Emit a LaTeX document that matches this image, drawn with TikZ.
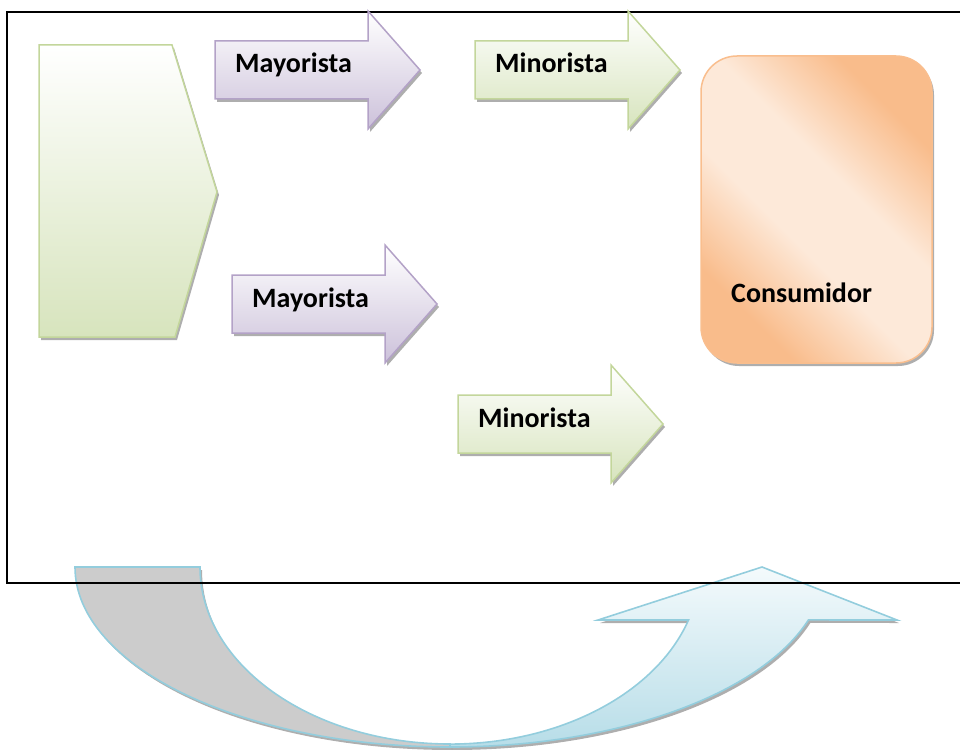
\documentclass[tikz,border=0pt]{standalone}
\usepackage{fontspec}
\setmainfont{Carlito}
\usetikzlibrary{shadows}
\definecolor{greenline}{HTML}{C3D69B}
\definecolor{greenfill}{HTML}{D7E4BD}
\definecolor{purpleline}{HTML}{B3A2C7}
\definecolor{purplefill}{HTML}{CCC1DA}
\definecolor{orangeline}{HTML}{F9BE8E}
\definecolor{orangefill}{HTML}{F9BC8B}
\definecolor{orangelight}{HTML}{FDE9D9}
\definecolor{aqualine}{HTML}{93CDDD}
\definecolor{aquatop}{HTML}{F4FAFC}
\definecolor{aquafill}{HTML}{B7DDE8}
\definecolor{tailgray}{HTML}{CCCCCC}
\pgfdeclareverticalshading{consumershade}{100bp}{color(0bp)=(orangefill); color(27bp)=(orangefill); color(43bp)=(orangelight); color(57bp)=(orangelight); color(73bp)=(orangefill); color(100bp)=(orangefill)}
\tikzset{
 label text/.style={font=\fontsize{28}{32}\selectfont\bfseries,inner sep=0pt},
 shade below/.style={drop shadow={shadow xshift=2pt,shadow yshift=-3pt,fill=black!45,opacity=.7}},
 purple arrow/.style={draw=purpleline,line width=1.5,top color=white,bottom color=purplefill,shade below},
 green arrow/.style={draw=greenline,line width=1.5,top color=white,bottom color=greenfill,shade below},
}

\begin{document}
\begin{tikzpicture}[x=1pt,y=-1pt]
\useasboundingbox (0,0) rectangle (960,749);
% curved arrow under the frame
\draw[aqualine,line width=1.6,fill=tailgray,shade below] (75,567) arc[start angle=180,end angle=90,x radius=375,y radius=180] -- (450,744) arc[start angle=90,end angle=180,x radius=250,y radius=177] -- cycle;
\draw[aqualine,line width=1.6,top color=aquatop,bottom color=aquafill,shade below] (450,747) arc[start angle=90,end angle=17.1,x radius=375,y radius=180] -- (897,620) -- (762,567) -- (598,620) -- (688.5,620) arc[start angle=17.4,end angle=90,x radius=250,y radius=177] -- cycle;
\draw[black,line width=1.6] (7,12) rectangle (964,583);
% source block
\draw[green arrow] (39,45) -- (172,45) -- (217,192) -- (175,337) -- (39,337) -- cycle;
\foreach \x/\y/\lab/\tone/\name in {215/70/Mayorista/purple/may1,232/304/Mayorista/purple/may2,475/70/Minorista/green/min1,458/424/Minorista/green/min2} {
 \draw[\tone\space arrow] (\x,\y-29) -- (\x+153,\y-29) -- (\x+153,\y-59) -- (\x+205,\y) -- (\x+153,\y+59) -- (\x+153,\y+29) -- (\x,\y+29) -- cycle;
 \node[label text,anchor=base west] (\name) at (\x+20,\y+3) {\lab};
}
\node[draw=orangeline,line width=1.5,rounded corners=36,minimum width=231,minimum height=307,
 shading=consumershade,shading angle=-45,shade below] (consumidor) at (816.5,209.5) {};
\node[label text,anchor=base west] (consumidortext) at (731,302) {Consumidor};
\end{tikzpicture}
\end{document}
